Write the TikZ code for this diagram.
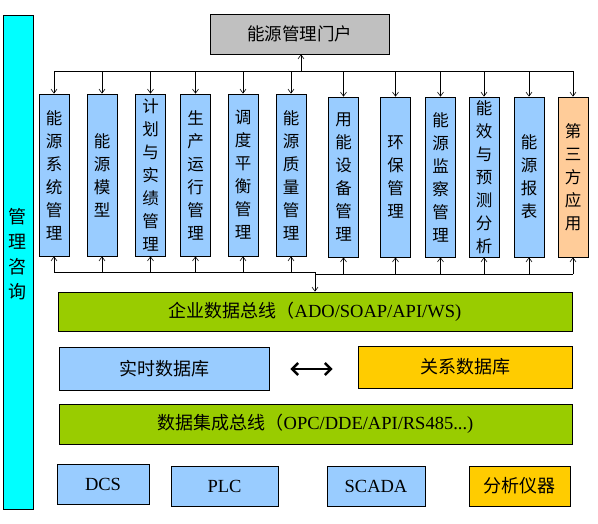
\documentclass[tikz,border=0pt]{standalone}
\usepackage{fontspec}
\setmainfont{Liberation Serif}
\newfontfamily\cjk{Noto Sans CJK SC}
\usetikzlibrary{arrows.meta}
\definecolor{portalgray}{HTML}{C0C0C0}
\definecolor{sideblue}{HTML}{00FFFF}
\definecolor{modblue}{HTML}{99CCFF}
\definecolor{modpeach}{HTML}{FFCC99}
\definecolor{busgreen}{HTML}{99CC00}
\definecolor{dbgold}{HTML}{FFCC00}
\begin{document}
\begin{tikzpicture}[x=1pt, y=-1pt,
		box/.style={draw=black, line width=0.8pt, inner sep=0pt},
		module/.style={box, minimum width=30pt, font=\cjk\fontsize{16.5}{23}\selectfont, align=center},
		bus/.style={box, fill=busgreen, font=\fontsize{18.5}{20}\selectfont},
		device/.style={box, minimum width=#1, minimum height=40pt, font=\fontsize{18.5}{20}\selectfont},
		arr/.style={-{Straight Barb[length=4pt,width=6pt]}, line width=0.6pt}]
		\useasboundingbox (0,0) rectangle (598,523);
		% side bar and portal
		\node[box, fill=sideblue, minimum width=30pt, minimum height=494pt, align=center,
		  font=\cjk\fontsize{18}{25}\selectfont] (consult) at (18,262) {\\[-47pt]管\\理\\咨\\询};
		\node[box, fill=portalgray, minimum width=179pt, minimum height=40pt,
		  font=\cjk\fontsize{17.5}{20}\selectfont] (portal) at (299.5,34) {能源管理门户};
		% application modules
		\foreach \i/\x/\y/\h/\col/\txt in {
		  1/54/175/162/modblue/{能\\源\\系\\统\\管\\理},
		  2/102/175/162/modblue/{能\\源\\模\\型},
		  3/150.5/175/162/modblue/{计\\划\\与\\实\\绩\\管\\理},
		  4/195.5/175/162/modblue/{生\\产\\运\\行\\管\\理},
		  5/243/175/162/modblue/{调\\度\\平\\衡\\管\\理},
		  6/291/175/162/modblue/{能\\源\\质\\量\\管\\理},
		  7/343.5/177/160/modblue/{用\\能\\设\\备\\管\\理},
		  8/395.5/177/160/modblue/{环\\保\\管\\理},
		  9/440.5/177/160/modblue/{能\\源\\监\\察\\管\\理},
		  10/484/177/160/modblue/{能\\效\\与\\预\\测\\分\\析},
		  11/529/177/160/modblue/{能\\源\\报\\表},
		  12/573/177/160/modpeach/{第\\三\\方\\应\\用}}{
		    \node[module, fill=\col, minimum height=\h pt] (m\i) at (\x,\y) {\txt};
		}
		% module buses
		\coordinate (top bus) at (301,71);
		\coordinate (low bus) at (315,272);
		\coordinate (low bus r) at (315,274);
		\draw[line width=0.6pt] (m1.north |- top bus) -- (m12.north |- top bus);
		\draw[line width=0.6pt] (m1.south |- low bus) -- (low bus) -- (low bus r) -- (m12.south |- low bus r);
		\draw[arr] (top bus) -- (top bus |- portal.south);
		\foreach \i in {1,...,12}{
		  \draw[arr] (m\i.north |- top bus) -- (m\i.north);
		}
		\foreach \i in {1,...,6}{
		  \draw[arr] (m\i.south |- low bus) -- (m\i.south);
		}
		\foreach \i in {7,...,12}{
		  \draw[arr] (m\i.south |- low bus r) -- (m\i.south);
		}
		% data layers
		\node[bus, minimum width=514pt, minimum height=39pt] (ent bus) at (315,311.5)
		  {{\cjk\fontsize{18}{20}\selectfont 企业数据总线（}ADO/SOAP/API/WS)};
		\draw[arr] (low bus) -- (ent bus.north);
		\node[box, fill=modblue, minimum width=210pt, minimum height=43pt,
		  font=\cjk\fontsize{18}{20}\selectfont] (rtdb) at (164,368.5) {实时数据库};
		\node[box, fill=dbgold, minimum width=214pt, minimum height=42pt,
		  font=\cjk\fontsize{18}{20}\selectfont] (reldb) at (465,367) {关系数据库};
		\draw[{Straight Barb[length=6pt,width=12pt]}-{Straight Barb[length=6pt,width=12pt]}, line width=2.4pt,
		  shorten <=21pt, shorten >=25pt] (rtdb.east |- 0,369) -- (reldb.west |- 0,369);
		\node[bus, minimum width=513pt, minimum height=40pt] (int bus) at (315.5,424)
		  {{\cjk\fontsize{18}{20}\selectfont 数据集成总线（}OPC/DDE/API/RS485...)};
		% field devices
		\node[device=92pt, fill=modblue] (dcs) at (103,484) {DCS};
		\node[device=107pt, fill=modblue] (plc) at (224.5,486) {PLC};
		\node[device=98pt, fill=modblue] (scada) at (376,486) {SCADA};
		\node[device=101pt, fill=dbgold, font=\cjk\fontsize{18}{20}\selectfont] (analyzer) at (519.5,486) {分析仪器};
	\end{tikzpicture}
\end{document}
